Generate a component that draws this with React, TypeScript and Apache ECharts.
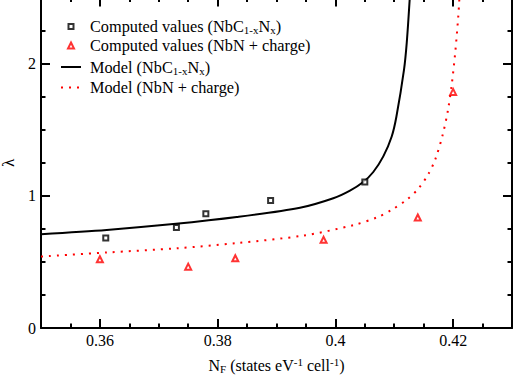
import React, { useEffect, useRef } from 'react';
import * as echarts from 'echarts';

// Computed values (NbC1-xNx)
const squareX = [0.361, 0.373, 0.378, 0.389, 0.405];
const squareY = [0.68, 0.76, 0.864, 0.964, 1.104];
// Computed values (NbN + charge)
const triX = [0.36, 0.375, 0.383, 0.398, 0.414, 0.42];
const triY = [0.52, 0.464, 0.528, 0.667, 0.836, 1.786];
// Model (NbC1-xNx)
const modelCX = [0.35, 0.36116, 0.37247, 0.38324, 0.39399, 0.39965, 0.40248, 0.40474, 0.40644, 0.40814, 0.40957, 0.41037, 0.41166, 0.41212, 0.41262];
const modelCY = [0.71, 0.742, 0.786, 0.839, 0.91, 0.982, 1.04, 1.105, 1.18, 1.298, 1.449, 1.6, 1.955, 2.157, 2.485];
// Model (NbN + charge)
const modelNX = [0.35, 0.36116, 0.37305, 0.38324, 0.39455, 0.40305, 0.40719, 0.40957, 0.41211, 0.41415, 0.41578, 0.41697, 0.41823, 0.41913, 0.41976, 0.42037, 0.42088, 0.42105];
const modelNY = [0.54, 0.571, 0.603, 0.642, 0.699, 0.778, 0.839, 0.894, 0.97, 1.057, 1.163, 1.276, 1.462, 1.65, 1.84, 2.09, 2.36, 2.485];

const xMajorTicks = [0.36, 0.38, 0.4, 0.42];
const xMinorTicks = [0.355, 0.365, 0.37, 0.375, 0.385, 0.39, 0.395, 0.405, 0.41, 0.415, 0.425];
const yMajorTicks = [0, 1, 2];
const yMinorTicks = [0.25, 0.5, 0.75, 1.25, 1.5, 1.75, 2.25];

const seriesNames = [
  'Computed values (NbC1-xNx)',
  'Computed values (NbN + charge)',
  'Model (NbC1-xNx)',
  'Model (NbN + charge)',
];
const legendLabels: Record<string, string> = {
  'Computed values (NbC1-xNx)': '{m|Computed values (NbC}{s|1-x}{m|N}{s|x}{m|)}',
  'Computed values (NbN + charge)': '{m|Computed values (NbN + charge)}',
  'Model (NbC1-xNx)': '{m|Model (NbC}{s|1-x}{m|N}{s|x}{m|)}',
  'Model (NbN + charge)': '{m|Model (NbN + charge)}',
};
const xAxisTitle = '{m|N}{s|F}{m| (states eV}{p|-1}{m| cell}{p|-1}{m|)}';

const FONT = "'Liberation Serif', 'Times New Roman', serif";
const legendRich: any = {
  m: { fontFamily: FONT, fontSize: 16.3, color: '#000', lineHeight: 18 },
  s: { fontFamily: FONT, fontSize: 11, color: '#000', lineHeight: 4, verticalAlign: 'bottom' },
};
const nameRich: any = {
  m: { fontFamily: FONT, fontSize: 16, color: '#000', lineHeight: 18 },
  s: { fontFamily: FONT, fontSize: 11, color: '#000', lineHeight: 6, verticalAlign: 'bottom' },
  p: { fontFamily: FONT, fontSize: 11, color: '#000', lineHeight: 6, verticalAlign: 'top' },
};

const zip = (xs: number[], ys: number[]) => xs.map((x, i) => [x, ys[i]]);

function xAxisDef(position: 'top' | 'bottom', ticks: number[], len: number, opts: any = {}) {
  return {
    type: 'value', position, min: 0.35, max: 0.43, gridIndex: 0,
    axisLine: { show: opts.line ?? false, onZero: false, lineStyle: { color: '#000', width: 2 } },
    axisTick: { show: true, inside: true, length: len, customValues: ticks, lineStyle: { color: '#000', width: 2 } },
    axisLabel: opts.label
      ? { show: true, customValues: ticks, margin: 4, fontFamily: FONT, fontSize: 16, color: '#000' }
      : { show: false },
    splitLine: { show: false },
    ...(opts.extra || {}),
  };
}
function yAxisDef(position: 'left' | 'right', ticks: number[], len: number, opts: any = {}) {
  return {
    type: 'value', position, min: 0, max: 2.5, gridIndex: 0,
    axisLine: { show: opts.line ?? false, onZero: false, lineStyle: { color: '#000', width: 2 } },
    axisTick: { show: true, inside: true, length: len, customValues: ticks, lineStyle: { color: '#000', width: 2 } },
    axisLabel: opts.label
      ? { show: true, customValues: ticks, margin: 5, fontFamily: FONT, fontSize: 16, color: '#000' }
      : { show: false },
    splitLine: { show: false },
    ...(opts.extra || {}),
  };
}

function legendRow(name: string, top: number, left: number, w: number, h: number, padLeft: number, extra: any = {}) {
  return {
    orient: 'vertical', left, top, padding: 0, itemGap: 0,
    itemWidth: w, itemHeight: h, selectedMode: false,
    textStyle: { fontFamily: FONT, fontSize: 16.3, color: '#000', padding: [0, 0, 0, padLeft], rich: legendRich },
    formatter: (n: string) => legendLabels[n],
    data: [name],
    ...extra,
  };
}

export default function App() {
  const ref = useRef<HTMLDivElement>(null);
  useEffect(() => {
    const chart = echarts.init(ref.current!, null, { renderer: 'svg' });
    const option: any = {
      animation: false,
      backgroundColor: '#fff',
      grid: { left: 41, right: 9, top: -2.5, bottom: 53, containLabel: false, outerBoundsMode: 'none' },
      legend: [
        legendRow(seriesNames[0], 18.5, 67.5, 5, 5, 11.5),
        legendRow(seriesNames[1], 37.5, 67, 6, 6, 11),
        legendRow(seriesNames[2], 59, 60, 20, 5, 4, { itemStyle: { opacity: 0 } }),
        legendRow(seriesNames[3], 79.5, 60, 20, 5, 4, { itemStyle: { opacity: 0 } }),
      ],
      xAxis: [
        xAxisDef('bottom', xMajorTicks, 9, {
          line: true, label: true,
          extra: {
            name: xAxisTitle,
            nameLocation: 'middle', nameGap: 28,
            nameTextStyle: { fontFamily: FONT, fontSize: 16, color: '#000', rich: nameRich },
          },
        }),
        xAxisDef('bottom', xMinorTicks, 4.5),
        xAxisDef('top', xMajorTicks, 9, { line: true }),
        xAxisDef('top', xMinorTicks, 4.5),
      ],
      yAxis: [
        yAxisDef('left', yMajorTicks, 9, {
          line: true, label: true,
          extra: {
            name: 'λ', nameLocation: 'middle', nameGap: 14,
            nameTextStyle: { fontFamily: FONT, fontSize: 17, color: '#000' },
          },
        }),
        yAxisDef('left', yMinorTicks, 4.5),
        yAxisDef('right', yMajorTicks, 9, { line: true }),
        yAxisDef('right', yMinorTicks, 4.5),
      ],
      series: [
        {
          name: seriesNames[0], type: 'scatter', xAxisIndex: 0, yAxisIndex: 0,
          symbol: 'rect', symbolSize: 5,
          itemStyle: { color: '#fff', borderColor: '#000', borderWidth: 2 },
          data: zip(squareX, squareY), z: 5,
        },
        {
          name: seriesNames[1], type: 'scatter', xAxisIndex: 0, yAxisIndex: 0,
          symbol: 'triangle', symbolSize: 6,
          itemStyle: { color: '#fff', borderColor: '#ff0000', borderWidth: 2 },
          data: zip(triX, triY), z: 5,
        },
        {
          name: seriesNames[2], type: 'line', xAxisIndex: 0, yAxisIndex: 0,
          symbol: 'none', showSymbol: false, smooth: 0.3,
          lineStyle: { color: '#000', width: 2 }, itemStyle: { color: '#000' },
          data: zip(modelCX, modelCY), z: 3,
        },
        {
          name: seriesNames[3], type: 'line', xAxisIndex: 0, yAxisIndex: 0,
          symbol: 'none', showSymbol: false, smooth: 0.3,
          lineStyle: { color: '#ff0000', width: 2, type: [2, 6] }, itemStyle: { color: '#ff0000' },
          data: zip(modelNX, modelNY), z: 3,
        },
      ],
    };
    chart.setOption(option);
    return () => chart.dispose();
  }, []);
  return (
    <div
      ref={ref}
      style={{ position: 'fixed', left: 0, top: 0, width: 521, height: 381, background: '#fff' }}
    />
  );
}
